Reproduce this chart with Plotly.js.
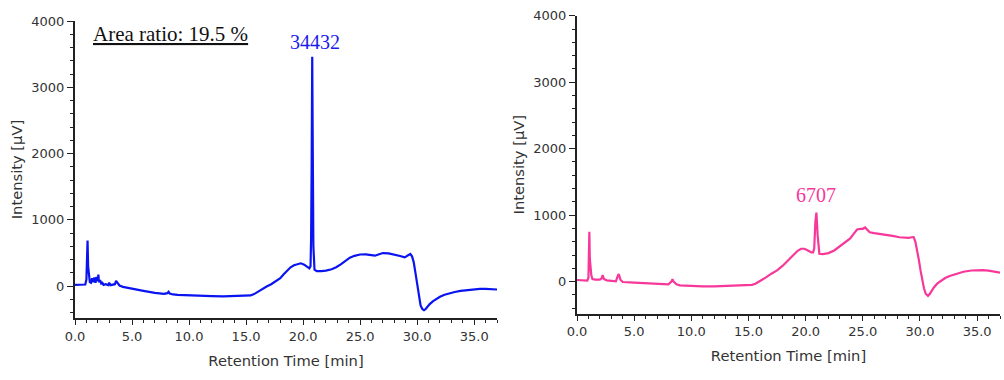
<!DOCTYPE html>
<html>
<head>
<meta charset="utf-8">
<script src="https://cdn.plot.ly/plotly-3.0.1.min.js"></script>
<style>html,body{margin:0;padding:0;background:#fff;}#chart{width:1004px;height:380px;}</style>
</head>
<body>
<div id="chart"></div>
<script>
// ---- Data ----
const timeA = [0,0.5,0.9,1.0,1.05,1.1,1.15,1.2,1.3,1.4,1.5,1.6,1.7,1.8,1.9,2.0,2.05,2.1,2.2,2.3,2.4,2.5,2.7,2.9,3.0,3.1,3.3,3.5,3.6,3.7,3.9,4.2,5.0,6.0,7.0,7.8,8.1,8.2,8.3,8.6,9.0,10.0,11.0,12.0,13.0,14.0,15.0,15.4,15.7,16.0,16.4,16.8,17.2,17.6,18.0,18.3,18.6,18.9,19.2,19.5,19.8,20.1,20.4,20.55,20.65,20.7,20.75,20.8,20.85,20.9,21.0,21.2,21.6,22.0,22.5,22.9,23.3,23.7,24.1,24.5,25.0,25.5,26.0,26.3,26.6,27.0,27.5,28.0,28.5,28.9,29.2,29.4,29.55,29.7,29.85,30.0,30.15,30.3,30.45,30.6,30.75,30.9,31.1,31.4,31.7,32.0,32.4,32.8,33.3,33.8,34.4,35.0,35.5,36.0,36.5,37.0];
const intensityA = [20,20,25,100,400,690,300,200,60,50,120,60,130,50,140,80,175,60,90,40,50,20,30,15,50,15,20,30,80,50,10,-10,-40,-70,-100,-115,-105,-85,-110,-125,-130,-140,-145,-150,-153,-152,-145,-140,-120,-85,-45,-5,30,70,120,180,240,285,315,335,345,325,290,270,300,700,1800,3460,2000,600,250,228,228,235,255,285,330,385,430,458,478,480,470,460,478,500,495,480,455,435,465,485,450,360,200,20,-180,-290,-345,-362,-345,-310,-270,-225,-190,-160,-130,-108,-88,-72,-58,-48,-42,-42,-46,-50];

const timeB = [0,0.5,0.9,1.0,1.05,1.08,1.12,1.2,1.25,1.35,1.6,2.0,2.15,2.25,2.35,2.6,3.0,3.4,3.55,3.65,3.8,4.0,5.0,6.0,7.0,8.0,8.25,8.35,8.45,8.7,9.0,10,11,12,13,14,15,15.3,15.6,16.0,16.5,17.0,17.5,18.0,18.5,19.0,19.3,19.6,19.9,20.2,20.5,20.65,20.75,20.85,20.94,21.05,21.2,21.5,22.0,22.5,23.0,23.5,23.9,24.2,24.5,24.8,25.0,25.2,25.4,25.6,26.0,26.8,27.6,28.2,28.6,29.0,29.3,29.45,29.6,29.75,29.9,30.05,30.2,30.35,30.5,30.7,30.85,31.0,31.2,31.5,31.8,32.2,32.6,33.2,33.8,34.5,35.0,35.5,36.0,36.5,37.0];
const intensityB = [25,18,15,60,400,750,350,200,100,40,30,30,50,100,40,20,10,5,80,115,30,-5,-15,-20,-30,-40,0,35,0,-40,-55,-65,-70,-70,-65,-60,-55,-48,-30,5,60,120,170,240,330,420,465,495,495,470,440,440,500,900,1040,700,420,415,430,470,530,600,650,720,785,795,795,815,770,742,730,712,690,668,660,660,668,670,600,480,330,170,20,-100,-180,-215,-185,-140,-90,-30,10,55,85,120,150,168,175,173,165,152,135];

const peakLabelA = "34432", peakTimeA = 21.05, peakLabelYA = 3690;
const peakLabelB = "6707",  peakTimeB = 20.94, peakLabelYB = 1300;
const ratioText = "Area ratio: 19.5 %";
const xTitle = "Retention Time [min]";
const yTitle = "Intensity [µV]";

// ---- Styling ----
const W = 1004, H = 380;
const axColor = '#222';
const tickFont = {family: 'DejaVu Sans, Verdana, sans-serif', size: 13, color: '#333'};
const titleFont = {family: 'DejaVu Sans, Verdana, sans-serif', size: 14.7, color: '#333'};
const serif = 'Liberation Serif, Times New Roman, serif';

function xax(domain) {
  return {
    domain: domain, range: [0, 37], tick0: 0, dtick: 5, tickformat: '.1f',
    showline: true, linewidth: 2, linecolor: axColor, showgrid: false, zeroline: false,
    ticks: 'outside', ticklen: 5, tickwidth: 1, tickcolor: axColor,
    minor: {dtick: 1, ticks: 'outside', ticklen: 3, tickwidth: 1, tickcolor: axColor},
    tickfont: tickFont, title: {text: xTitle, font: titleFont, standoff: 13},
    fixedrange: true
  };
}
function yax(domain, anchor) {
  return {
    domain: domain, anchor: anchor, range: [-480, 4000], tick0: 0, dtick: 1000,
    showline: true, linewidth: 2, linecolor: axColor, showgrid: false, zeroline: false,
    ticks: 'outside', ticklen: 6, tickwidth: 1, tickcolor: axColor,
    minor: {dtick: 200, ticks: 'outside', ticklen: 3, tickwidth: 1, tickcolor: axColor},
    tickfont: tickFont, title: {text: yTitle, font: titleFont, standoff: 5},
    fixedrange: true
  };
}

const traces = [
  {x: timeA, y: intensityA, xaxis: 'x', yaxis: 'y', mode: 'lines', line: {color: '#0a14f0', width: 2.2}, hoverinfo: 'skip'},
  {x: timeB, y: intensityB, xaxis: 'x2', yaxis: 'y2', mode: 'lines', line: {color: '#f7379a', width: 2.2}, hoverinfo: 'skip'}
];

const layout = {
  width: W, height: H, showlegend: false,
  margin: {l: 0, r: 0, t: 0, b: 0},
  paper_bgcolor: '#fff', plot_bgcolor: '#fff',
  xaxis: xax([75 / W, 497 / W]),
  yaxis: yax([1 - 318 / H, 1 - 21 / H], 'x'),
  xaxis2: Object.assign(xax([577 / W, 1000 / W]), {anchor: 'y2'}),
  yaxis2: yax([1 - 313.6 / H, 1 - 15.7 / H], 'x2'),
  annotations: [
    {xref: 'paper', yref: 'paper', x: 91 / W, y: 1 - 34 / H, xanchor: 'left', yanchor: 'middle',
     text: '<u>' + ratioText + '</u>', showarrow: false, font: {family: serif, size: 21, color: '#111'}},
    {xref: 'x', yref: 'y', x: peakTimeA, y: peakLabelYA, text: peakLabelA, showarrow: false,
     font: {family: serif, size: 20, color: '#1a1aee'}},
    {xref: 'x2', yref: 'y2', x: peakTimeB, y: peakLabelYB, text: peakLabelB, showarrow: false,
     font: {family: serif, size: 20, color: '#f7379a'}}
  ]
};

Plotly.newPlot('chart', traces, layout, {staticPlot: true, displayModeBar: false});
</script>
</body>
</html>
